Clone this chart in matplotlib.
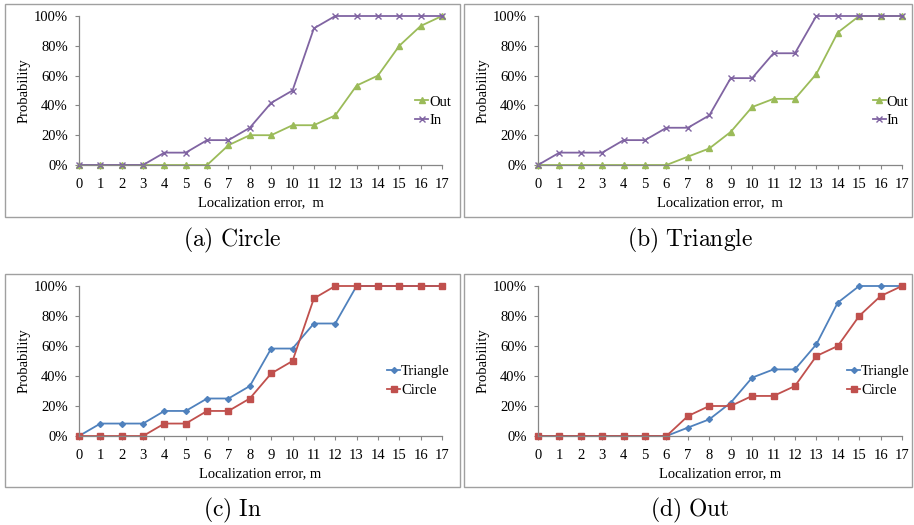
import matplotlib
matplotlib.use("Agg")
import matplotlib.pyplot as plt
from matplotlib.patches import Rectangle
from matplotlib.ticker import PercentFormatter

x = list(range(18))
circle_in = [0, 0, 0, 0, 8.3, 8.3, 16.7, 16.7, 25, 41.7, 50, 91.7, 100, 100, 100, 100, 100, 100]
circle_out = [0, 0, 0, 0, 0, 0, 0, 13.3, 20, 20, 26.7, 26.7, 33.3, 53.3, 60, 80, 93.3, 100]
tri_in = [0, 8.3, 8.3, 8.3, 16.7, 16.7, 25, 25, 33.3, 58.3, 58.3, 75, 75, 100, 100, 100, 100, 100]
tri_out = [0, 0, 0, 0, 0, 0, 0, 5.6, 11.1, 22.2, 38.9, 44.4, 44.4, 61.1, 88.9, 100, 100, 100]
yticks = [0, 20, 40, 60, 80, 100]

W, H = 914, 525
fig = plt.figure(figsize=(W / 100, H / 100), dpi=100)
plt.rcParams['mathtext.fontset'] = 'cm'

PURPLE = '#8064A2'
GREEN = '#9BBB59'
BLUE = '#4F81BD'
RED = '#C0504D'
AXC = '#868686'
SERIF = 'Liberation Serif'
TICKFS = 10.5


def px_axes(l, t, r, b):
    return fig.add_axes([l / W, 1 - b / H, (r - l) / W, (b - t) / H])


def style(ax, xlabel):
    ax.set_xlim(0, 17)
    ax.set_ylim(0, 100)
    ax.set_xticks(x)
    ax.set_yticks(yticks)
    ax.yaxis.set_major_formatter(PercentFormatter(decimals=0))
    for s in ['top', 'right']:
        ax.spines[s].set_visible(False)
    for s in ['left', 'bottom']:
        ax.spines[s].set_color(AXC)
        ax.spines[s].set_linewidth(0.9)
    ax.tick_params(axis='both', colors=AXC, length=3, width=0.8, direction='out',
                   labelcolor='black', labelsize=TICKFS)
    ax.tick_params(axis='y', pad=5)
    ax.tick_params(axis='x', pad=6.5)
    for lab in ax.get_xticklabels() + ax.get_yticklabels():
        lab.set_fontfamily(SERIF)
    ax.set_xlabel(xlabel, fontfamily=SERIF, fontsize=10.5, labelpad=3.5)
    ax.set_ylabel('Probability', fontfamily=SERIF, fontsize=10.5, labelpad=2)


def legend(ax, xa, ya):
    return ax.legend(loc='center left', bbox_to_anchor=(xa, ya), frameon=False,
                     prop={'family': SERIF, 'size': 10.5}, handlelength=0.9,
                     handletextpad=0.05, labelspacing=0.35, borderaxespad=0, borderpad=0)


# boxes
for (l, t, r, b) in [(5, 4, 460, 217), (464, 4, 912, 217), (5, 274, 460, 487), (464, 274, 912, 487)]:
    fig.patches.append(Rectangle((l / W, 1 - b / H), (r - l) / W, (b - t) / H,
                                 transform=fig.transFigure, fill=False,
                                 edgecolor='#A0A0A0', linewidth=1.0))

# (a) Circle
ax = px_axes(79, 16, 442, 165)
ax.plot(x, circle_out, color=GREEN, marker='^', markersize=4, lw=1.3, label='Out', clip_on=False)
ax.plot(x, circle_in, color=PURPLE, marker='x', markersize=4, mew=1, lw=1.3, label='In', clip_on=False)
style(ax, 'Localization error,  m')
legend(ax, 0.926, 0.362)

# (b) Triangle
ax = px_axes(538, 16, 902, 165)
ax.plot(x, tri_out, color=GREEN, marker='^', markersize=4, lw=1.3, label='Out', clip_on=False)
ax.plot(x, tri_in, color=PURPLE, marker='x', markersize=4, mew=1, lw=1.3, label='In', clip_on=False)
style(ax, 'Localization error,  m')
legend(ax, 0.92, 0.362)

# (c) In
ax = px_axes(79, 286, 442, 436)
ax.plot(x, tri_in, color=BLUE, marker='D', markersize=3, lw=1.3, label='Triangle', clip_on=False)
ax.plot(x, circle_in, color=RED, marker='s', markersize=4.5, lw=1.3, label='Circle', clip_on=False)
style(ax, 'Localization error, m')
legend(ax, 0.849, 0.367)

# (d) Out
ax = px_axes(538, 286, 902, 436)
ax.plot(x, tri_out, color=BLUE, marker='D', markersize=3, lw=1.3, label='Triangle', clip_on=False)
ax.plot(x, circle_out, color=RED, marker='s', markersize=4.5, lw=1.3, label='Circle', clip_on=False)
style(ax, 'Localization error, m')
legend(ax, 0.849, 0.367)

# captions
for cx, cy, txt in [(232, 240, r'$\mathrm{(a)\ Circle}$'), (690, 240, r'$\mathrm{(b)\ Triangle}$'),
                    (232, 510, r'$\mathrm{(c)\ In}$'), (690, 510, r'$\mathrm{(d)\ Out}$')]:
    fig.text(cx / W, 1 - cy / H, txt, ha='center', va='center', fontsize=17)

fig.savefig('out.png', dpi=100)
